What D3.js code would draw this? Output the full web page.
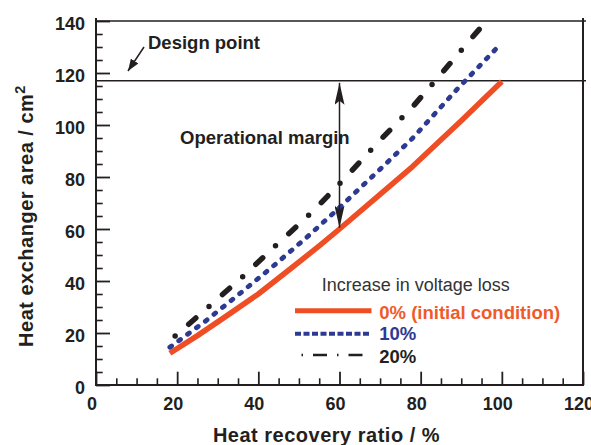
<!DOCTYPE html>
<html>
<head>
<meta charset="utf-8">
<script src="https://cdn.jsdelivr.net/npm/d3@7/dist/d3.min.js"></script>
<style>
  html, body { margin: 0; padding: 0; background: #fff; }
  svg { display: block; font-family: "Liberation Sans", Arial, Helvetica, sans-serif; }
</style>
</head>
<body>
<svg id="chart" width="591" height="445"></svg>
<script>
// ---- data ----
const xTicks = [0, 20, 40, 60, 80, 100, 120];
const yTicks = [0, 20, 40, 60, 80, 100, 120, 140];
const seriesNames = ["0% (initial condition)", "10%", "20%"];
const legendTitle = "Increase in voltage loss";
const designValue = 117;
const marginX = 60;

const redX = [18.2, 25, 32, 40, 48, 55, 60, 70, 78, 90, 100];
const redY = [12.2, 19.0, 26.4, 35.0, 44.8, 53.5, 60.0, 73.3, 84.0, 101.6, 116.7];

const blueX = [18.2, 27, 35, 43.5, 52, 58.5, 69, 78, 89, 99.5];
const blueY = [14.5, 24.6, 34.6, 45.5, 56.9, 66.1, 81.5, 94.9, 113.8, 130.8];

const blackX = [19.5, 28, 36.3, 44.7, 53.4, 61.4, 69.4, 77.8, 84.8, 92, 96.3];
const blackY = [18.8, 30.4, 41.9, 54.2, 66.7, 79.7, 93.2, 106.6, 119.2, 132.4, 140.2];

// ---- layout ----
const svg = d3.select("#chart");
const L = 96, R = 583, T = 21, B = 385;
const x = d3.scaleLinear().domain([0, 120]).range([L, R]);
const y = d3.scaleLinear().domain([0, 140]).range([B, T]);
const ink = "#231f20";
const red = "#ef4e25";
const blue = "#2d3a92";

// minor ticks
const minorX = d3.range(0, 121, 5).filter(v => v % 20 !== 0);
const minorY = d3.range(0, 141, 5).filter(v => v % 20 !== 0);

svg.append("g").attr("transform", `translate(0,${B})`)
  .call(d3.axisBottom(x).tickValues(minorX).tickSizeInner(-6.7).tickSizeOuter(0).tickFormat(""))
  .call(g => g.select(".domain").remove())
  .call(g => g.selectAll("line").attr("stroke", ink).attr("stroke-width", 1.6));

svg.append("g").attr("transform", `translate(${L},0)`)
  .call(d3.axisLeft(y).tickValues(minorY).tickSizeInner(-6.7).tickSizeOuter(0).tickFormat(""))
  .call(g => g.select(".domain").remove())
  .call(g => g.selectAll("line").attr("stroke", ink).attr("stroke-width", 1.6));

// major axes
const xAxis = svg.append("g").attr("transform", `translate(0,${B})`)
  .call(d3.axisBottom(x).tickValues(xTicks).tickSizeInner(-13.3).tickSizeOuter(0).tickPadding(12.2));
xAxis.select(".domain").remove();
xAxis.selectAll("line").attr("stroke", ink).attr("stroke-width", 1.8);
xAxis.selectAll("text").attr("fill", ink).attr("font-size", 18).attr("font-weight", "bold")
  .attr("dx", -4.5).attr("font-family", "Liberation Sans, Arial, sans-serif");

const yAxis = svg.append("g").attr("transform", `translate(${L},0)`)
  .call(d3.axisLeft(y).tickValues(yTicks).tickSizeInner(-14).tickSizeOuter(0).tickPadding(11));
yAxis.select(".domain").remove();
yAxis.selectAll("line").attr("stroke", ink).attr("stroke-width", 1.8);
yAxis.selectAll("text").attr("fill", ink).attr("font-size", 18).attr("font-weight", "bold")
  .attr("dy", "0.47em").attr("font-family", "Liberation Sans, Arial, sans-serif");

// frame
svg.append("line").attr("x1", L).attr("x2", L).attr("y1", B).attr("y2", T - 3)
  .attr("stroke", ink).attr("stroke-width", 2);
svg.append("line").attr("x1", L - 1).attr("x2", R + 1).attr("y1", B).attr("y2", B)
  .attr("stroke", ink).attr("stroke-width", 2);
svg.append("line").attr("x1", R).attr("x2", R).attr("y1", B).attr("y2", T - 3)
  .attr("stroke", ink).attr("stroke-width", 2);
svg.append("line").attr("x1", L).attr("x2", R + 3).attr("y1", y(140)).attr("y2", y(140))
  .attr("stroke", ink).attr("stroke-width", 1.6);
// design line
svg.append("line").attr("x1", L).attr("x2", R + 3).attr("y1", y(designValue)).attr("y2", y(designValue))
  .attr("stroke", ink).attr("stroke-width", 1.6);

// series
const line = d3.line().x(d => x(d[0])).y(d => y(d[1]));
const redData = d3.zip(redX, redY);
const blueData = d3.zip(blueX, blueY);
const blackData = d3.zip(blackX, blackY);

svg.append("path").datum(redData).attr("d", line)
  .attr("fill", "none").attr("stroke", red).attr("stroke-width", 5.5)
  .attr("stroke-linejoin", "round");
svg.append("path").datum(blueData).attr("d", line)
  .attr("fill", "none").attr("stroke", blue).attr("stroke-width", 4.8)
  .attr("stroke-linecap", "round").attr("stroke-dasharray", "2.2 8.8");
svg.append("path").datum(blackData).attr("d", line)
  .attr("fill", "none").attr("stroke", ink).attr("stroke-width", 5.5)
  .attr("stroke-linecap", "round").attr("stroke-dasharray", "0 18 9.5 17.5");

// arrowheads
const defs = svg.append("defs");
defs.append("marker").attr("id", "ahead").attr("viewBox", "0 0 22 10")
  .attr("refX", 22).attr("refY", 5).attr("markerWidth", 22).attr("markerHeight", 10)
  .attr("markerUnits", "userSpaceOnUse").attr("orient", "auto-start-reverse")
  .append("path").attr("d", "M0,0 L22,5 L0,10 L4,5 Z").attr("fill", ink);
defs.append("marker").attr("id", "shead").attr("viewBox", "0 0 12 9")
  .attr("refX", 12).attr("refY", 4.5).attr("markerWidth", 12).attr("markerHeight", 9)
  .attr("markerUnits", "userSpaceOnUse").attr("orient", "auto")
  .append("path").attr("d", "M0,0 L12,4.5 L0,9 Z").attr("fill", ink);

// operational margin arrow
svg.append("line")
  .attr("x1", x(marginX)).attr("x2", x(marginX))
  .attr("y1", y(designValue) + 2).attr("y2", y(60.5))
  .attr("stroke", ink).attr("stroke-width", 1.5)
  .attr("marker-start", "url(#ahead)").attr("marker-end", "url(#ahead)");

// design point arrow
svg.append("line")
  .attr("x1", 144).attr("y1", 47).attr("x2", 128).attr("y2", 71)
  .attr("stroke", ink).attr("stroke-width", 1.5).attr("marker-end", "url(#shead)");

// annotation texts
svg.append("text").attr("x", 148).attr("y", 49.3).text("Design point")
  .attr("font-size", 18.5).attr("font-weight", "bold").attr("fill", ink);
svg.append("text").attr("x", 180).attr("y", 143.5).text("Operational margin")
  .attr("font-size", 18.5).attr("font-weight", "bold").attr("fill", ink);

// axis titles
svg.append("text").attr("x", 326.5).attr("y", 442).attr("text-anchor", "middle")
  .attr("font-size", 20).attr("font-weight", "bold").attr("letter-spacing", 0.5)
  .attr("fill", ink).text("Heat recovery ratio / %");
const yt = svg.append("text").attr("transform", "translate(33.3,216) rotate(-90)")
  .attr("text-anchor", "middle").attr("font-size", 20).attr("font-weight", "bold")
  .attr("letter-spacing", 0.5).attr("fill", ink);
yt.append("tspan").text("Heat exchanger area / cm");
yt.append("tspan").attr("dy", -8).attr("font-size", 14.5).text("2");

// legend
svg.append("text").attr("x", 321.7).attr("y", 290.5).text(legendTitle)
  .attr("font-size", 18).attr("fill", "#333");
const lg = [
  { name: seriesNames[0], color: red, ly: 310.8, ty: 319.2, w: 5, dash: null, tcol: "#f05a2a", x1: 295 },
  { name: seriesNames[1], color: blue, ly: 333.7, ty: 340, w: 4, dash: "6 2.5", tcol: blue, x1: 295 },
  { name: seriesNames[2], color: ink, ly: 355, ty: 362.5, w: 2.5, dash: "1.5 10 14 10", tcol: ink, x1: 301.5 }
];
lg.forEach(d => {
  const l = svg.append("line").attr("x1", d.x1).attr("x2", 371.5)
    .attr("y1", d.ly).attr("y2", d.ly).attr("stroke", d.color).attr("stroke-width", d.w);
  if (d.dash) l.attr("stroke-dasharray", d.dash);
  svg.append("text").attr("x", 379.3).attr("y", d.ty).text(d.name)
    .attr("font-size", 18.5).attr("font-weight", "bold").attr("fill", d.tcol);
});
</script>
</body>
</html>
